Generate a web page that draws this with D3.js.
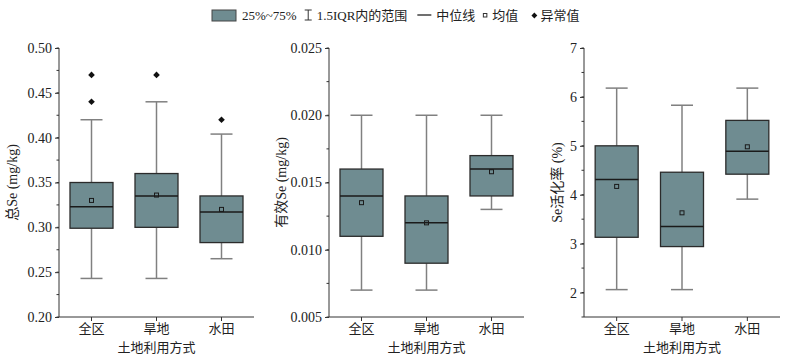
<!DOCTYPE html>
<html><head><meta charset="utf-8">
<script src="https://cdn.jsdelivr.net/npm/d3@7"></script>
<style>
body{margin:0;background:#fff;}
text{font-family:"Liberation Serif","Times New Roman","Noto Sans CJK SC",serif;fill:#222;}
</style></head><body>
<svg id="c" width="801" height="361"></svg>
<script>
const categories = ["全区","旱地","水田"];
// panel 1: 总Se (mg/kg)
const totalSe = {
  q1:[0.299,0.300,0.283], q3:[0.350,0.360,0.335], median:[0.323,0.335,0.317],
  mean:[0.330,0.336,0.320], lo:[0.243,0.243,0.265], hi:[0.420,0.440,0.404],
  outliers:[[0.44,0.47],[0.47],[0.42]]
};
// panel 2: 有效Se (mg/kg)
const availSe = {
  q1:[0.011,0.009,0.014], q3:[0.016,0.014,0.017], median:[0.014,0.012,0.016],
  mean:[0.0135,0.012,0.0158], lo:[0.007,0.007,0.013], hi:[0.020,0.020,0.020],
  outliers:[[],[],[]]
};
// panel 3: Se活化率 (%)
const actRate = {
  q1:[3.13,2.94,4.42], q3:[5.0,4.46,5.52], median:[4.31,3.35,4.89],
  mean:[4.17,3.63,4.98], lo:[2.06,2.06,3.91], hi:[6.18,5.83,6.18],
  outliers:[[],[],[]]
};
const yTicks1 = [0.20,0.25,0.30,0.35,0.40,0.45,0.50];
const yTicks2 = [0.005,0.010,0.015,0.020,0.025];
const yTicks3 = [2,3,4,5,6,7];
const yLabels = ["总Se (mg/kg)","有效Se (mg/kg)","Se活化率 (%)"];
const xTitle = "土地利用方式";
const legendLabels = ["25%~75%","1.5IQR内的范围","中位线","均值","异常值"];

const svg = d3.select("#c");
const fill = "#6f8c91", boxStroke = "#2b2b2b", whisk = "#808080", axisC = "#333";
const yTop = 48, yBot = 317;

const panels = [
  {data:totalSe, domain:[0.20,0.50], ticks:yTicks1, minor:0.025, fmt:d3.format(".2f"), x0:59, x1:254, lab:yLabels[0], labX:17},
  {data:availSe, domain:[0.005,0.025], ticks:yTicks2, minor:0.0025, fmt:d3.format(".3f"), x0:329, x1:524, lab:yLabels[1], labX:286},
  {data:actRate, domain:[1.5,7], ticks:yTicks3, minor:0.5, fmt:d3.format("d"), x0:584, x1:780, lab:yLabels[2], labX:562}
];

panels.forEach(p=>{
  const y = d3.scaleLinear().domain(p.domain).range([yBot, yTop]);
  const x = d3.scaleBand().domain(categories).range([p.x0, p.x1]).padding(0);
  const g = svg.append("g");
  const bw = 43, cw = 22;
  const D = p.data;
  categories.forEach((c,i)=>{
    const cx = x(c) + x.bandwidth()/2;
    g.append("line").attr("x1",cx).attr("x2",cx).attr("y1",y(D.hi[i])).attr("y2",y(D.q3[i])).attr("stroke",whisk).attr("stroke-width",1.5);
    g.append("line").attr("x1",cx).attr("x2",cx).attr("y1",y(D.lo[i])).attr("y2",y(D.q1[i])).attr("stroke",whisk).attr("stroke-width",1.5);
    g.append("line").attr("x1",cx-cw/2).attr("x2",cx+cw/2).attr("y1",y(D.hi[i])).attr("y2",y(D.hi[i])).attr("stroke",whisk).attr("stroke-width",1.5);
    g.append("line").attr("x1",cx-cw/2).attr("x2",cx+cw/2).attr("y1",y(D.lo[i])).attr("y2",y(D.lo[i])).attr("stroke",whisk).attr("stroke-width",1.5);
    g.append("rect").attr("x",cx-bw/2).attr("width",bw).attr("y",y(D.q3[i])).attr("height",y(D.q1[i])-y(D.q3[i]))
      .attr("fill",fill).attr("stroke",boxStroke).attr("stroke-width",1.3);
    g.append("line").attr("x1",cx-bw/2).attr("x2",cx+bw/2).attr("y1",y(D.median[i])).attr("y2",y(D.median[i])).attr("stroke","#1a1a1a").attr("stroke-width",1.5);
    g.append("rect").attr("x",cx-2).attr("y",y(D.mean[i])-2).attr("width",4).attr("height",4).attr("fill","none").attr("stroke","#1a1a1a").attr("stroke-width",1);
    D.outliers[i].forEach(v=>{
      g.append("path").attr("d",d3.symbol(d3.symbolDiamond2,28)()).attr("transform",`translate(${cx},${y(v)})`).attr("fill","#111");
    });
  });
  const minors = d3.range(p.domain[0], p.domain[1]+p.minor/2, p.minor);
  g.selectAll(null).data(minors).enter().append("line")
    .attr("x1",p.x0).attr("x2",p.x0-2.5).attr("y1",d=>y(d)).attr("y2",d=>y(d)).attr("stroke",axisC);
  const ya = g.append("g").attr("transform",`translate(${p.x0},0)`)
    .call(d3.axisLeft(y).tickValues(p.ticks).tickFormat(p.fmt).tickSize(4).tickSizeOuter(0).tickPadding(3));
  ya.select(".domain").attr("stroke",axisC).attr("d",`M0,${yTop}V${yBot}`);
  ya.selectAll("line").attr("stroke",axisC);
  ya.selectAll("text").style("font-family","Liberation Serif").style("font-size","14px").attr("fill","#222");
  const xa = g.append("g").attr("transform",`translate(0,${yBot})`)
    .call(d3.axisBottom(x).tickSize(4).tickSizeOuter(0).tickPadding(3));
  xa.select(".domain").attr("stroke",axisC).attr("d",`M${p.x0},0H${p.x1}`);
  xa.selectAll("line").attr("stroke",axisC);
  xa.selectAll("text").style("font-family","Noto Sans CJK SC").style("font-size","13px").attr("fill","#222");
  g.append("text").attr("x",(p.x0+p.x1)/2).attr("y",352).attr("text-anchor","middle")
    .style("font-family","Noto Sans CJK SC").style("font-size","13px").text(xTitle);
  g.append("text").attr("transform",`translate(${p.labX},${(yTop+yBot)/2}) rotate(-90)`).attr("text-anchor","middle")
    .style("font-size","14px").text(p.lab);
});

// legend laid out sequentially
const lg = svg.append("g");
const ty = 20;
let cx = 212;
function addText(t, gapAfter){
  const el = lg.append("text").attr("x",cx).attr("y",ty).style("font-size","13px").text(t);
  cx += el.node().getComputedTextLength() + gapAfter;
}
lg.append("rect").attr("x",cx).attr("y",10).attr("width",24).attr("height",11).attr("fill",fill).attr("stroke","#444").attr("stroke-width",1);
cx += 30;
addText(legendLabels[0], 8);
lg.append("path").attr("d",`M${cx},10H${cx+7}M${cx+3.5},10V20M${cx},20H${cx+7}`).attr("stroke","#333").attr("stroke-width",1).attr("fill","none");
cx += 12;
addText(legendLabels[1], 10);
lg.append("line").attr("x1",cx).attr("x2",cx+14).attr("y1",15).attr("y2",15).attr("stroke","#222").attr("stroke-width",1.3);
cx += 19;
addText(legendLabels[2], 8);
lg.append("rect").attr("x",cx).attr("y",13.5).attr("width",3.5).attr("height",3.5).attr("fill","none").attr("stroke","#333");
cx += 9;
addText(legendLabels[3], 14);
lg.append("path").attr("d",d3.symbol(d3.symbolDiamond2,22)()).attr("transform",`translate(${cx+2},15.5)`).attr("fill","#111");
cx += 8;
addText(legendLabels[4], 0);
</script></body></html>
